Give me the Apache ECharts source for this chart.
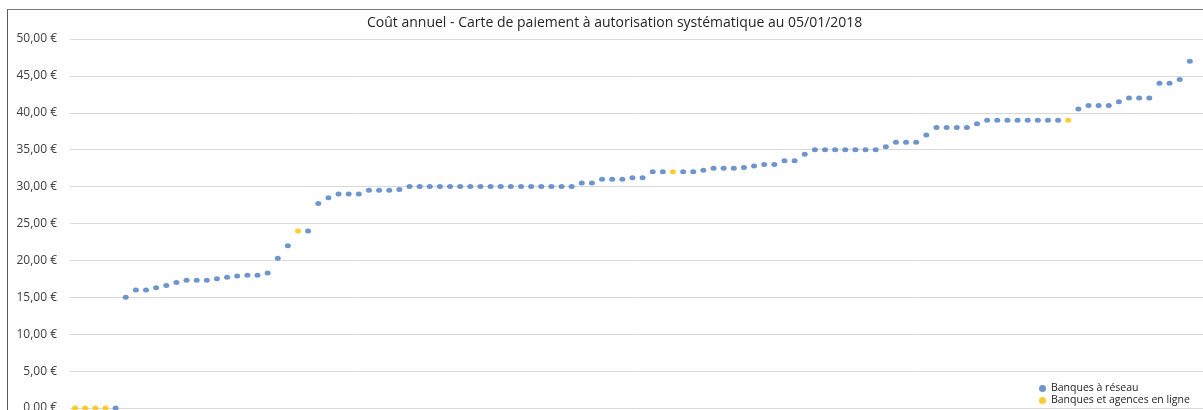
<!DOCTYPE html>
<html lang="fr">

<head>
    <meta charset="UTF-8">
    <script src="https://cdn.jsdelivr.net/npm/echarts@6/dist/echarts.min.js"></script>
    <title>Coût annuel</title>
    <style>
        body { margin: 0; background: #fff; }
        #main { position: absolute; left: 0; top: 0; width: 1203px; height: 410px; }
        /* cadre du graphique (coupé à droite et en bas) */
        #cadre { position: absolute; left: 7px; top: 9px; width: 1300px; height: 500px;
                 border-left: 1px solid #5a5a5a; border-top: 1px solid #7a7a7a; pointer-events: none; }
    </style>
</head>

<body>
    <div id="main"></div>
    <div id="cadre"></div>
    <script>
        // coût annuel par banque, trié (en €)
        var couts = [
            0, 0, 0, 0, 0, 15, 16, 16, 16.3, 16.6,
            17.0, 17.3, 17.3, 17.3, 17.5, 17.7, 17.9, 18.0, 18.0, 18.3,
            20.3, 22.0, 24.0, 24.0, 27.7, 28.5, 29, 29, 29, 29.5,
            29.5, 29.5, 29.6, 30, 30, 30, 30, 30, 30, 30,
            30, 30, 30, 30, 30, 30, 30, 30, 30, 30,
            30.5, 30.5, 31, 31, 31, 31.2, 31.2, 32, 32, 32,
            32, 32, 32.2, 32.5, 32.5, 32.5, 32.6, 32.8, 33, 33,
            33.5, 33.5, 34.4, 35, 35, 35, 35, 35, 35, 35,
            35.4, 36, 36, 36, 37, 38, 38, 38, 38, 38.5,
            39, 39, 39, 39, 39, 39, 39, 39, 39, 40.5,
            41, 41, 41, 41.5, 42, 42, 42, 44, 44, 44.5,
            47
        ];
        // positions des banques et agences en ligne
        var enLigne = [0, 1, 2, 3, 22, 59, 98];
        var series = ['Banques à réseau', 'Banques et agences en ligne'];
        var couleurs = ['#4a7cc0', '#ffc000'];
        var yLabels = ['0,00 €', '5,00 €', '10,00 €', '15,00 €', '20,00 €', '25,00 €',
            '30,00 €', '35,00 €', '40,00 €', '45,00 €', '50,00 €'];

        var reseau = [], ligne = [];
        couts.forEach(function (v, i) {
            if (enLigne.indexOf(i) >= 0) ligne.push([i, v]);
            else reseau.push([i, v]);
        });

        var myChart = echarts.init(document.getElementById('main'));
        var police = 'Open Sans';
        var option = {
            animation: false,
            title: {
                text: 'Coût annuel - Carte de paiement à autorisation systématique au 05/01/2018',
                left: 362,
                top: 11,
                textStyle: { fontFamily: police, fontSize: 14, fontWeight: 'normal', color: '#262626' }
            },
            legend: {
                data: series,
                orient: 'vertical',
                left: 1034,
                top: 378,
                height: 40,
                itemWidth: 7,
                itemHeight: 7,
                itemGap: 1,
                icon: 'circle',
                textStyle: { fontFamily: police, fontSize: 10.5, lineHeight: 11, color: '#262626' }
            },
            grid: { left: 70, right: 0, top: 39, bottom: 2, outerBoundsMode: 'none' },
            xAxis: {
                type: 'value',
                min: -0.5,
                max: 111.3,
                show: false
            },
            yAxis: {
                type: 'value',
                min: 0,
                max: 50,
                interval: 5,
                axisLine: { show: false },
                axisTick: { show: false },
                axisLabel: {
                    margin: 13,
                    fontFamily: police,
                    fontSize: 12,
                    color: '#404040',
                    formatter: function (v) { return yLabels[Math.round(v / 5)]; }
                },
                splitLine: { lineStyle: { color: '#d9d9d9', width: 1 } }
            },
            series: [
                {
                    name: series[0],
                    type: 'scatter',
                    symbolSize: [6, 5],
                    itemStyle: { color: couleurs[0] },
                    data: reseau
                },
                {
                    name: series[1],
                    type: 'scatter',
                    symbolSize: [6, 5],
                    itemStyle: { color: couleurs[1] },
                    data: ligne
                }
            ]
        };
        myChart.setOption(option);
    </script>
</body>

</html>
